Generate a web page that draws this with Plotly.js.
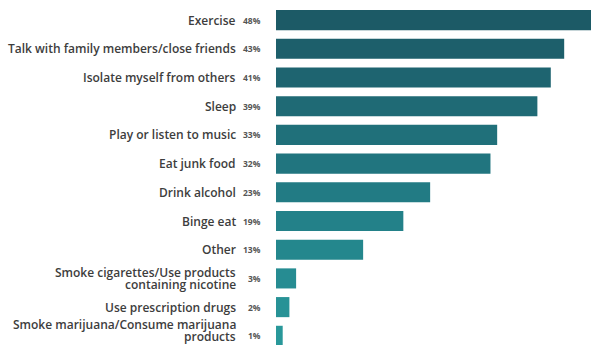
<!DOCTYPE html>
<html>
<head>
<meta charset="utf-8">
<script src="https://cdn.plot.ly/plotly-3.0.1.min.js"></script>
<style>html,body{margin:0;padding:0;background:#fff;}#chart{width:591px;height:345px;}</style>
</head>
<body>
<div id="chart"></div>
<script>
const categories = [
  "Exercise",
  "Talk with family members/close friends",
  "Isolate myself from others",
  "Sleep",
  "Play or listen to music",
  "Eat junk food",
  "Drink alcohol",
  "Binge eat",
  "Other",
  "Smoke cigarettes/Use products<br>containing nicotine",
  "Use prescription drugs",
  "Smoke marijuana/Consume marijuana<br>products"
];
const values = [48, 43, 41, 39, 33, 32, 23, 19, 13, 3, 2, 1];
const valueLabels = ["48%", "43%", "41%", "39%", "33%", "32%", "23%", "19%", "13%", "3%", "2%", "1%"];
const barColors = ["#1c5a66", "#1d5f6b", "#1e6470", "#1f6a75", "#20707a", "#21757f", "#227b84", "#238189", "#24878d", "#268c92", "#279296", "#29989a"];

const yKeys = categories.map(c => c.replace("<br>", " "));

const trace = {
  type: "bar",
  orientation: "h",
  x: values,
  y: yKeys,
  marker: {color: barColors, line: {width: 0}},
  hoverinfo: "none"
};

const labelFont = {family: "Open Sans, Arial, sans-serif", size: 12, color: "#3d3d3d", weight: 600};
const annotations = [];
categories.forEach((c, i) => {
  annotations.push({
    x: 0, xref: "x", y: yKeys[i], yref: "y",
    text: "<b>" + valueLabels[i] + "</b>",
    showarrow: false, xanchor: "right", xshift: -13,
    font: {family: "Open Sans, Arial, sans-serif", size: 8.5, color: "#555555"}
  });
  const lines = c.split("<br>");
  const lift = (i === categories.length - 1) ? 5 : 0;
  lines.forEach((ln, j) => {
    const off = lines.length === 1 ? 0 : (j === 0 ? 6 : -6);
    annotations.push({
      x: 0, xref: "x", y: yKeys[i], yref: "y",
      text: ln, showarrow: false, xanchor: "right", xshift: -39,
      yshift: off + lift, borderpad: 0,
      font: labelFont
    });
  });
});

const layout = {
  width: 591, height: 345,
  margin: {l: 276, r: 0, t: 0, b: 0},
  paper_bgcolor: "#ffffff", plot_bgcolor: "#ffffff",
  showlegend: false,
  bargap: 0.3,
  xaxis: {range: [0, 47], showgrid: false, zeroline: false, showticklabels: false, showline: false, fixedrange: true},
  yaxis: {
    type: "category",
    range: [11.32, -0.7],
    showgrid: false, zeroline: false, showline: false, ticks: "",
    showticklabels: false,
    fixedrange: true
  },
  annotations: annotations
};

Plotly.newPlot("chart", [trace], layout, {displayModeBar: false, staticPlot: true});
</script>
</body>
</html>
